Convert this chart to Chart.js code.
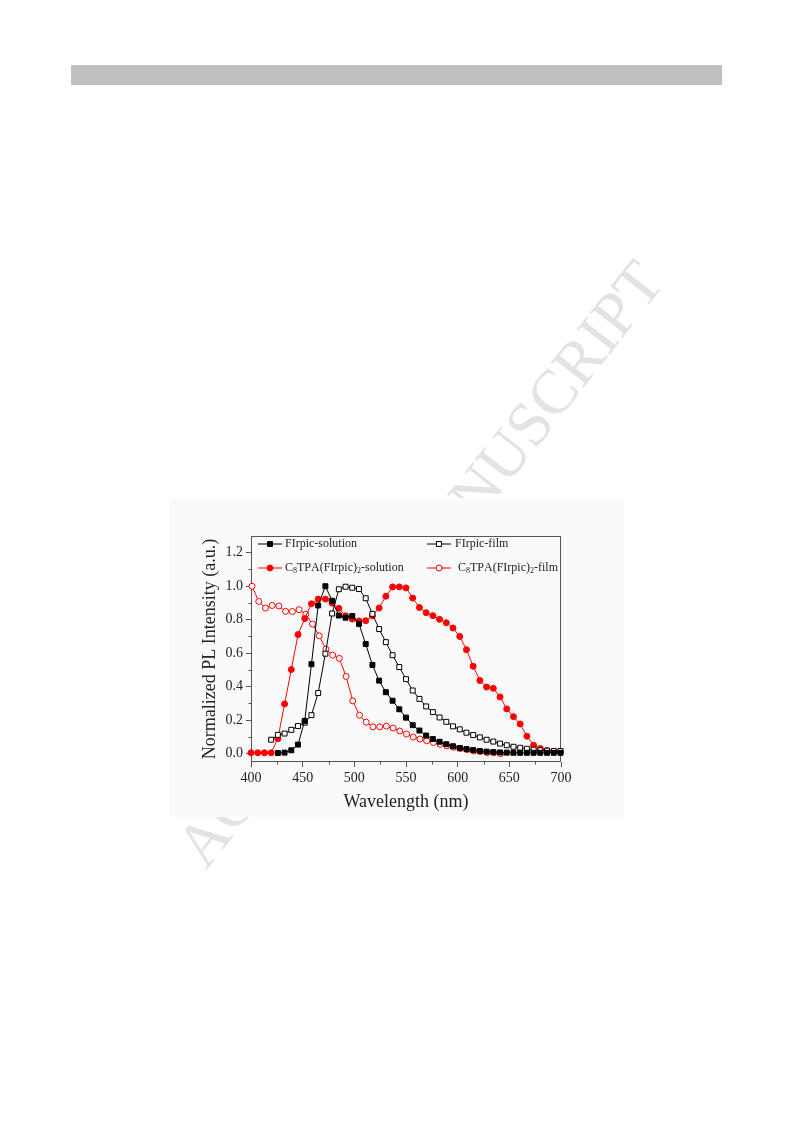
<!DOCTYPE html>
<html>
<head>
<meta charset="utf-8">
<script src="https://cdn.jsdelivr.net/npm/chart.js@4.4.1/dist/chart.umd.min.js"></script>
<style>
html,body{margin:0;padding:0;background:#fff;}
body{width:793px;height:1123px;position:relative;overflow:hidden;}
#bg{position:absolute;left:0;top:0;}
#fig{position:absolute;left:170px;top:498px;width:454px;height:319px;background:#fafafa;}
</style>
</head>
<body>
<canvas id="bg" width="793" height="1123"></canvas>
<div id="fig"><canvas id="chart" width="454" height="319"></canvas></div>
<script>
// series labels (subscripts as unicode, drawn small in the legend)
const seriesLabels = ['FIrpic-solution', 'FIrpic-film', 'C₈TPA(FIrpic)₂-solution', 'C₈TPA(FIrpic)₂-film'];

// FIrpic-solution
const solX = [426,432.5,439,445.5,452,458.5,465,472,478.5,485,491.5,498,504.5,511,517.5,524,530.5,537,543.5,550,
  556.5,563,569.5,576,582.5,589,595.5,602,608.5,615,621.5,628,634.5,641,647.5,654,660.5,667,673.5,680,686.5,693,699.5];
const solY = [0.004,0.006,0.02,0.054,0.196,0.534,0.885,1.0,0.913,0.825,0.812,0.822,0.775,0.655,0.53,0.436,0.367,0.316,0.265,0.215,
  0.17,0.138,0.108,0.087,0.071,0.056,0.044,0.034,0.027,0.021,0.016,0.012,0.009,0.007,0.006,0.005,0.005,0.005,0.005,0.005,0.005,0.005,0.005];

// FIrpic-film
const filmX = [419.5,426,432.5,439,445.5,452,458.5,465,472,478.5,485,491.5,498,504.5,511,517.5,524,530.5,537,543.5,550,
  556.5,563,569.5,576,582.5,589,595.5,602,608.5,615,621.5,628,634.5,641,647.5,654,660.5,667,673.5,680,686.5,693,699.5];
const filmY = [0.083,0.112,0.12,0.142,0.165,0.185,0.23,0.362,0.597,0.837,0.982,0.997,0.991,0.983,0.928,0.835,0.744,0.666,0.588,0.517,0.445,
  0.377,0.327,0.282,0.248,0.216,0.19,0.163,0.145,0.125,0.111,0.097,0.083,0.072,0.06,0.05,0.041,0.035,0.029,0.024,0.02,0.018,0.016,0.016];

// C8TPA(FIrpic)2-solution
const tpaSolX = [400,406.5,413,419.5,426,432.5,439,445.5,452,458.5,465,472,478.5,485,491.5,498,504.5,511,517.5,524,530.5,537,543.5,550,
  556.5,563,569.5,576,582.5,589,595.5,602,608.5,615,621.5,628,634.5,641,647.5,654,660.5,667,673.5,680,686.5,693,699.5];
const tpaSolY = [0.005,0.005,0.005,0.005,0.089,0.297,0.502,0.711,0.807,0.895,0.923,0.923,0.899,0.868,0.823,0.804,0.793,0.794,0.823,0.87,0.94,0.996,0.996,0.99,
  0.929,0.873,0.842,0.824,0.802,0.782,0.75,0.7,0.621,0.522,0.437,0.398,0.39,0.339,0.267,0.221,0.177,0.104,0.05,0.031,0.018,0.012,0.008];

// C8TPA(FIrpic)2-film
const tpaFilmX = [401,407.5,414,420.5,427,433.5,440,446.5,453,459.5,466,472.5,479,485.5,492,498.5,505,511.5,518,524.5,531,537.5,
  544,550.5,557,563.5,570,576.5,583,589.5,596,602.5,609,615.5,622,628.5,635,641.5];
const tpaFilmY = [1.0,0.909,0.87,0.885,0.882,0.85,0.849,0.86,0.833,0.774,0.704,0.624,0.588,0.569,0.461,0.315,0.229,0.188,0.16,0.16,0.164,0.153,
  0.135,0.117,0.099,0.087,0.077,0.067,0.056,0.046,0.038,0.03,0.024,0.016,0.012,0.006,0.005,0.0];

// axis ticks
const xTicks = [400,450,500,550,600,650,700];
const xMinor = [425,475,525,575,625,675];
const yTicks = [0,0.2,0.4,0.6,0.8,1.0,1.2];
const yMinor = [0.1,0.3,0.5,0.7,0.9,1.1];

const FONT = '"Liberation Serif","Times New Roman",serif';
const INK = '#222';
const AXIS = '#555';

function pts(xs, ys){ return xs.map((x,i)=>({x, y:ys[i]})); }

// page background: header bar and watermark
(function(){
  const c = document.getElementById('bg').getContext('2d');
  c.fillStyle = '#c0c0c0';
  c.fillRect(71, 65, 651, 20);
  c.save();
  c.translate(206, 871);
  c.rotate(-52*Math.PI/180);
  c.font = '63px ' + FONT;
  c.fillStyle = '#e3e3e3';
  c.textBaseline = 'alphabetic';
  c.fillText('ACCEPTED MANUSCRIPT', 0, 0);
  c.restore();
})();

// frame and minor ticks
const framePlugin = {
  id:'frame',
  beforeDatasetsDraw(chart){
    const {ctx, chartArea:a, scales} = chart;
    ctx.save();
    ctx.strokeStyle = AXIS; ctx.lineWidth = 1;
    const l = Math.round(a.left)+0.5, t = Math.round(a.top)+0.5, r = Math.round(a.right)-0.5, b = Math.round(a.bottom)-0.5;
    ctx.strokeRect(l, t, r-l, b-t);
    ctx.beginPath();
    yMinor.forEach(v=>{ const y = Math.round(scales.y.getPixelForValue(v))+0.5; ctx.moveTo(l-3, y); ctx.lineTo(l, y); });
    xMinor.forEach(v=>{ const x = Math.round(scales.x.getPixelForValue(v))+0.5; ctx.moveTo(x, b); ctx.lineTo(x, b+3); });
    ctx.stroke();
    ctx.restore();
  }
};

// two-column legend inside the plot, with small subscripts
const subs = {'₀':'0','₁':'1','₂':'2','₃':'3','₄':'4','₅':'5','₆':'6','₇':'7','₈':'8','₉':'9'};
function drawRich(ctx, str, x, y){
  for(const ch of str){
    if(subs[ch]){
      ctx.font = '8px ' + FONT;
      ctx.fillText(subs[ch], x, y+3);
      x += ctx.measureText(subs[ch]).width;
    } else {
      ctx.font = '12px ' + FONT;
      ctx.fillText(ch, x, y);
      x += ctx.measureText(ch).width;
    }
  }
}
const legendPlugin = {
  id:'legend2',
  afterDraw(chart){
    const {ctx, chartArea:a} = chart;
    const spots = [{x:7,y:8,tx:34},{x:176,y:8,tx:204},{x:7,y:32,tx:34},{x:176,y:32,tx:207}];
    ctx.save();
    chart.data.datasets.forEach((ds,i)=>{
      const s = spots[i];
      const x0 = a.left+s.x, y0 = a.top+s.y;
      ctx.strokeStyle = ds.borderColor; ctx.lineWidth = 1;
      ctx.beginPath(); ctx.moveTo(x0, y0); ctx.lineTo(x0+24, y0); ctx.stroke();
      ctx.fillStyle = ds.pointBackgroundColor; ctx.strokeStyle = ds.borderColor;
      Chart.helpers.drawPoint(ctx, {pointStyle:ds.pointStyle, radius:ds.pointRadius, borderWidth:1, rotation:0}, x0+12, y0);
      ctx.fillStyle = INK; ctx.textBaseline = 'middle'; ctx.textAlign = 'left';
      drawRich(ctx, ds.label, a.left+s.tx, y0);
    });
    ctx.restore();
  }
};

function series(label, xs, ys, color, fill, style, r){
  return {
    label, data: pts(xs, ys),
    borderColor: color, backgroundColor: fill, pointBackgroundColor: fill, pointBorderColor: color,
    borderWidth: 1, pointBorderWidth: 1, pointStyle: style, pointRadius: r, pointHoverRadius: r,
    tension: 0, clip: false
  };
}

new Chart(document.getElementById('chart'), {
  type:'line',
  data:{
    datasets:[
      series(seriesLabels[0], solX, solY, '#000000', '#000000', 'rect', 3.5),
      series(seriesLabels[1], filmX, filmY, '#000000', '#ffffff', 'rect', 3.5),
      series(seriesLabels[2], tpaSolX, tpaSolY, '#ff0000', '#ff0000', 'circle', 3),
      series(seriesLabels[3], tpaFilmX, tpaFilmY, '#ff0000', '#ffffff', 'circle', 3)
    ]
  },
  options:{
    responsive:false,
    animation:false,
    layout:{padding:{top:38, right:63, left:25, bottom:0}},
    plugins:{legend:{display:false}, tooltip:{enabled:false}},
    scales:{
      x:{
        type:'linear', min:400, max:700,
        afterBuildTicks: s => { s.ticks = xTicks.map(v=>({value:v})); },
        afterFit: s => { s.height = 55; },
        border:{display:false},
        grid:{drawOnChartArea:false, drawTicks:true, tickLength:5, tickColor:AXIS, tickWidth:1},
        ticks:{font:{family:FONT, size:14}, color:INK, padding:3, maxRotation:0, autoSkip:false},
        title:{display:true, text:'Wavelength (nm)', font:{family:FONT, size:18}, color:INK, padding:{top:0,bottom:4}}
      },
      y:{
        type:'linear', min:-0.05, max:1.3,
        afterBuildTicks: s => { s.ticks = yTicks.map(v=>({value:v})); },
        afterFit: s => { s.width = 56; },
        border:{display:false},
        grid:{drawOnChartArea:false, drawTicks:true, tickLength:5, tickColor:AXIS, tickWidth:1},
        ticks:{font:{family:FONT, size:14}, color:INK, padding:3, callback: v => Number(v).toFixed(1)},
        title:{display:true, text:'Normalized PL Intensity (a.u.)', font:{family:FONT, size:18}, color:INK, padding:{top:4,bottom:0}}
      }
    }
  },
  plugins:[framePlugin, legendPlugin]
});
</script>
</body>
</html>
